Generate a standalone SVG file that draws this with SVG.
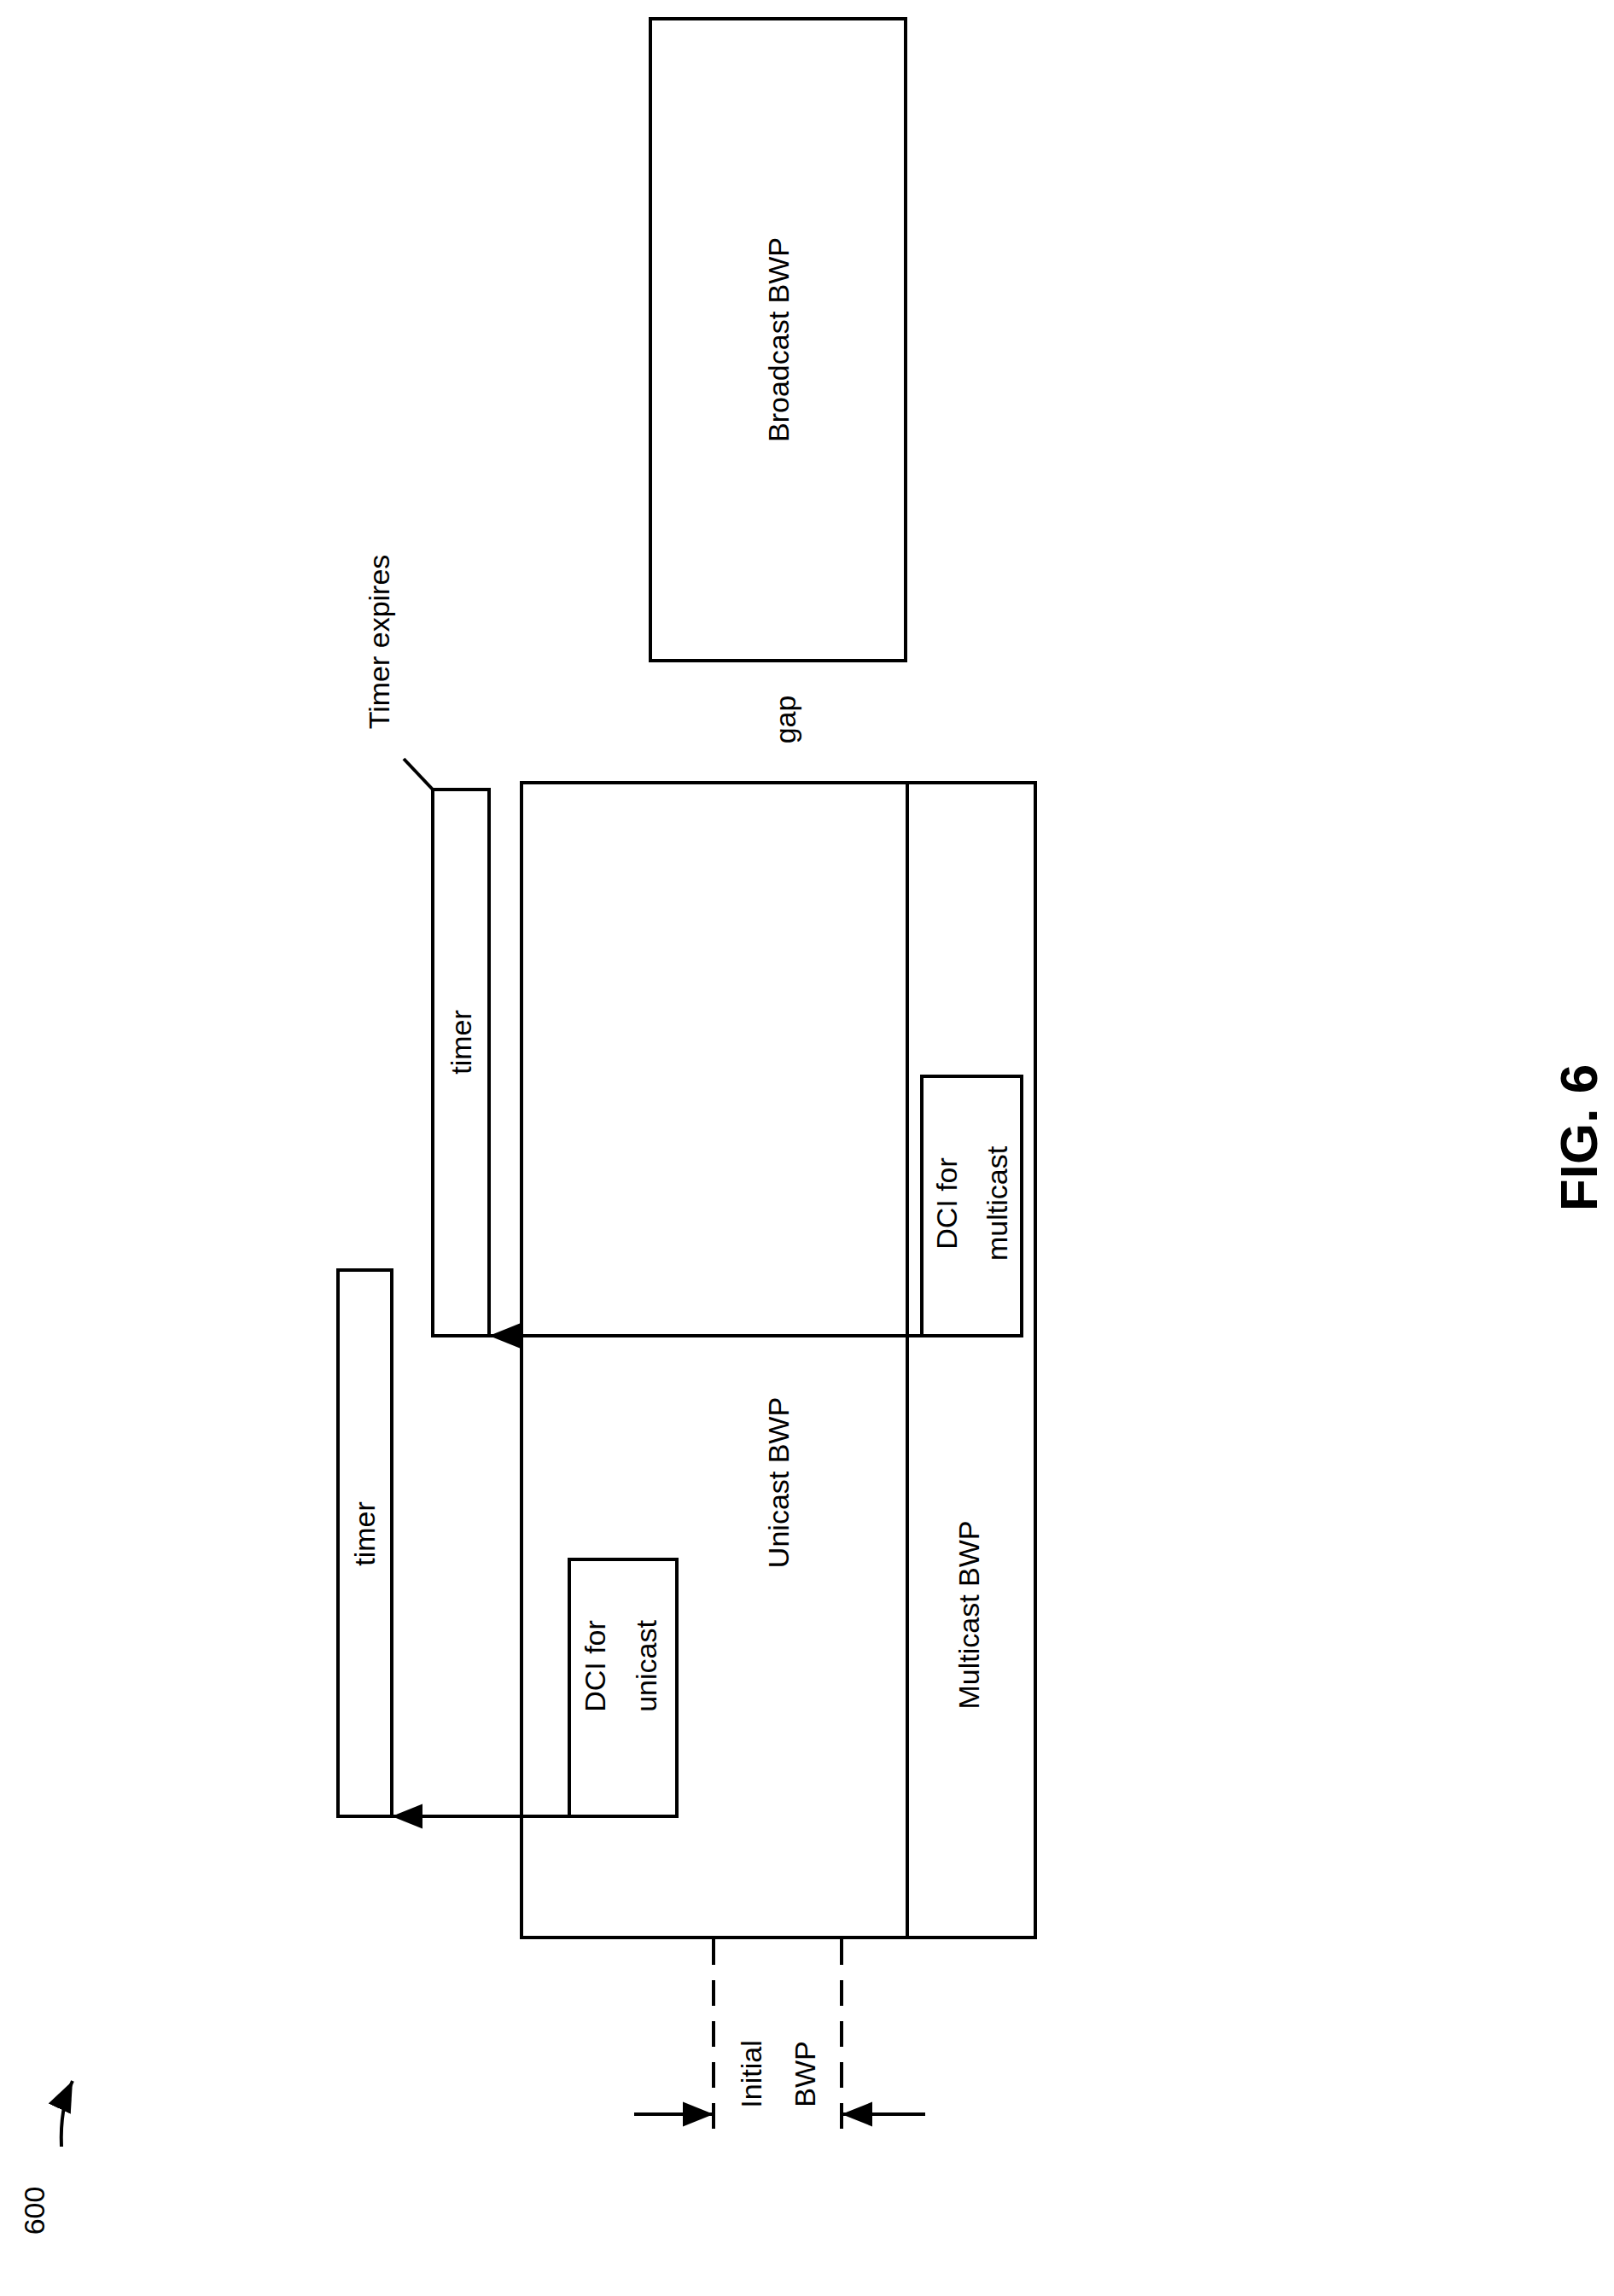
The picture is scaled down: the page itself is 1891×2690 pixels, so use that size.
<svg xmlns="http://www.w3.org/2000/svg" width="1891" height="2690" viewBox="0 0 1891 2690">
<style>
.b{fill:none;stroke:#000;stroke-width:4}
.t{font-family:"Liberation Sans",Arial,sans-serif;font-size:34px;fill:#000;text-anchor:middle;dominant-baseline:central}
.d{stroke:#000;stroke-width:4;stroke-dasharray:30,18;fill:none}
</style>
<defs>
<marker id="ah" markerWidth="10" markerHeight="8" refX="10" refY="4" orient="auto" markerUnits="userSpaceOnUse" viewBox="0 0 10 8"><path d="M0,0 L10,4 L0,8 Z" fill="#000" transform="scale(1)"/></marker>
<marker id="ahb" viewBox="0 0 10 8" refX="10" refY="4" markerWidth="36" markerHeight="30" orient="auto" markerUnits="userSpaceOnUse"><path d="M0,0 L10,4 L0,8 Z" fill="#000"/></marker>
</defs>
<rect width="1891" height="2690" fill="#fff"/>
<g id="broadcast"><rect class="b" x="762" y="22" width="299" height="752"/><text class="t" transform="translate(912 398) rotate(-90)">Broadcast BWP</text></g>
<g id="gap"><text class="t" transform="translate(920 843) rotate(-90)">gap</text></g>
<g id="timer-expires"><text class="t" transform="translate(444 752) rotate(-90)">Timer expires</text></g>
<g id="timer2"><rect class="b" x="507" y="925" width="66" height="640"/><text class="t" transform="translate(540 1221) rotate(-90)">timer</text></g>
<g id="main"><rect class="b" x="611" y="917" width="602" height="1353"/><line class="b" x1="1063" y1="917" x2="1063" y2="2270"/>
<text class="t" transform="translate(912 1737) rotate(-90)">Unicast BWP</text>
<text class="t" transform="translate(1135 1892) rotate(-90)">Multicast BWP</text></g>
<g id="dci-multicast"><rect class="b" x="1080" y="1261" width="117" height="304"/><text class="t" transform="translate(1109 1410) rotate(-90)">DCI for</text><text class="t" transform="translate(1168 1410) rotate(-90)">multicast</text></g>
<g id="timer1"><rect class="b" x="396" y="1488" width="63" height="640"/><text class="t" transform="translate(427 1797) rotate(-90)">timer</text></g>
<g id="dci-unicast"><rect class="b" x="667" y="1827" width="126" height="301"/><text class="t" transform="translate(697 1952) rotate(-90)">DCI for</text><text class="t" transform="translate(757 1952) rotate(-90)">unicast</text></g>
<g id="initial-bwp"><text class="t" transform="translate(880 2430) rotate(-90)">Initial</text><text class="t" transform="translate(943 2430) rotate(-90)">BWP</text></g>
<g id="label-600"><text class="t" transform="translate(40 2590) rotate(-90)">600</text></g>
<g id="fig"><text class="t" style="font-weight:bold;font-size:62px" transform="translate(1849 1333) rotate(-90)">FIG. 6</text></g>
<g id="connectors">
<line class="b" x1="473" y1="889" x2="507" y2="925"/>
<line class="b" x1="1080" y1="1565" x2="573" y2="1565" marker-end="url(#ahb)"/>
<line class="b" x1="667" y1="2128" x2="459" y2="2128" marker-end="url(#ahb)"/>
<line class="d" x1="836" y1="2272" x2="836" y2="2494"/>
<line class="d" x1="986" y1="2272" x2="986" y2="2494"/>
<line class="b" x1="743" y1="2477" x2="836" y2="2477" marker-end="url(#ahb)"/>
<line class="b" x1="1084" y1="2477" x2="986" y2="2477" marker-end="url(#ahb)"/>
<path class="b" d="M72 2515 Q70 2470 85 2438" marker-end="url(#ahb)"/>
</g>
</svg>
